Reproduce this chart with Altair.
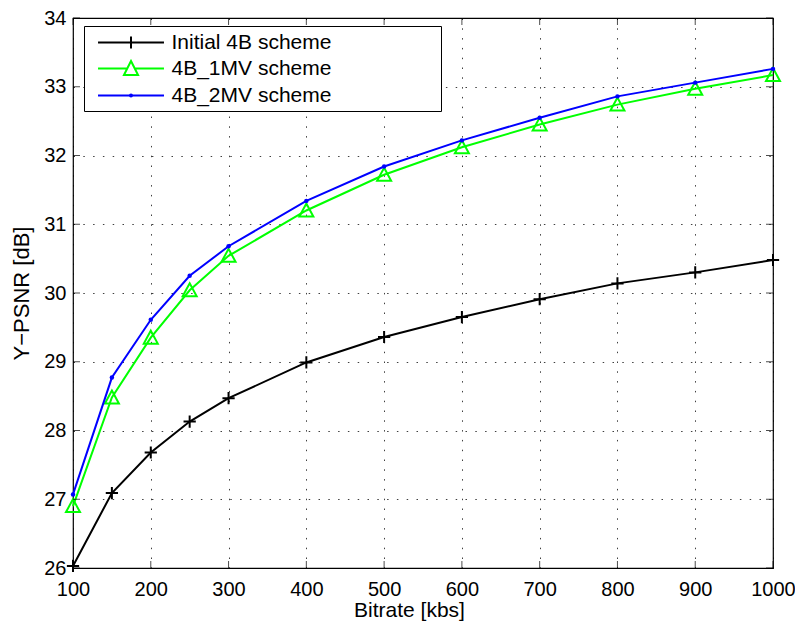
import altair as alt
import pandas as pd

# ---------------- data ----------------
bitrate = [100, 150, 200, 250, 300, 400, 500, 600, 700, 800, 900, 1000]
initial_4b = [26.03, 27.09, 27.68, 28.13, 28.47, 28.99, 29.36, 29.65, 29.91, 30.14, 30.30, 30.48]
mv1_4b = [26.90, 28.48, 29.35, 30.04, 30.54, 31.20, 31.72, 32.12, 32.45, 32.74, 32.97, 33.17]
mv2_4b = [27.07, 28.77, 29.61, 30.25, 30.68, 31.34, 31.84, 32.22, 32.55, 32.86, 33.06, 33.26]

series_names = ["Initial 4B scheme", "4B_1MV scheme", "4B_2MV scheme"]
series_colors = ["#000000", "#00ff00", "#0000ff"]

x_ticks = [100, 200, 300, 400, 500, 600, 700, 800, 900, 1000]
y_ticks = [26, 27, 28, 29, 30, 31, 32, 33, 34]

rows = []
for name, vals in zip(series_names, [initial_4b, mv1_4b, mv2_4b]):
    for b, v in zip(bitrate, vals):
        rows.append({"bitrate": b, "psnr": v, "series": name})
df = pd.DataFrame(rows)
xt = pd.DataFrame({"bitrate": x_ticks})
yt = pd.DataFrame({"psnr": y_ticks})

# ---------------- style ----------------
FONT = "Liberation Sans"
W, H = 700, 550

xscale = alt.Scale(domain=[100, 1000], nice=False, zero=False)
yscale = alt.Scale(domain=[26, 34], nice=False, zero=False)
color_scale = alt.Scale(domain=series_names, range=series_colors)

# legend symbols: line segment + marker (unit = 10.5 px)
legend_paths = [
    "M-3.14,0H3.14M0,-0.58V0.58",
    "M-3.14,0H-0.36M0.36,0H3.14M0,-0.71L0.67,0.62L-0.67,0.62Z",
    "M-3.14,0H3.14M-0.1,0A0.1,0.1 0 1,0 0.1,0A0.1,0.1 0 1,0 -0.1,0",
]
shape_scale = alt.Scale(domain=series_names, range=legend_paths)

marker_shapes = ["M-1,0H1M0,-1V1", "M0,-1L1,0.85L-1,0.85Z", "circle"]
marker_sizes = [150, 196, 20]
marker_filled = [False, False, True]

x_axis = alt.Axis(values=x_ticks, grid=True, ticks=False, domain=False, format="d",
                  labelPadding=11, labelFontSize=20, labelFlush=False, labelOverlap=False,
                  title="Bitrate [kbs]", titleFontSize=21, titleFontWeight="normal",
                  titlePadding=0, titleX=336)
y_axis = alt.Axis(values=y_ticks, grid=True, ticks=False, domain=False, format="d",
                  labelPadding=7, labelFontSize=20, labelFlush=False, labelOverlap=False,
                  title="Y\u2212PSNR [dB]", titleFontSize=22, titleFontWeight="normal",
                  titlePadding=10)

X = lambda: alt.X("bitrate:Q", scale=xscale, axis=x_axis)
Y = lambda: alt.Y("psnr:Q", scale=yscale, axis=y_axis)

base = alt.Chart(df)
layers = []
for i, name in enumerate(series_names):
    sub = base.transform_filter(alt.datum.series == name)
    layers.append(sub.mark_line(color=series_colors[i], strokeWidth=2, clip=False)
                  .encode(x=X(), y=Y()))
    layers.append(sub.mark_point(shape=marker_shapes[i], size=marker_sizes[i],
                                 filled=marker_filled[i], color=series_colors[i],
                                 strokeWidth=2, opacity=1, clip=False)
                  .encode(x=X(), y=Y()))

leg = alt.Legend(title=".", orient="none", legendX=11, legendY=8, direction="vertical",
                 titleOrient="right", titleColor="white", titleFontSize=6, titlePadding=103,
                 labelFont=FONT, labelFontSize=21, labelColor="black", labelOffset=29,
                 labelLimit=500, symbolOffset=30.5, symbolSize=441, symbolStrokeWidth=2,
                 symbolOpacity=1, padding=5, rowPadding=4, strokeColor="black",
                 fillColor="white")

legend_layer = base.mark_point(opacity=0, size=441, filled=False, strokeWidth=2).encode(
    x=X(), y=Y(),
    color=alt.Color("series:N", scale=color_scale, legend=leg, sort=series_names),
    shape=alt.Shape("series:N", scale=shape_scale, legend=leg, sort=series_names),
)

# inward tick marks on all four sides
tick_style = dict(size=7, thickness=1, color="black")
bottom_ticks = alt.Chart(xt).mark_tick(orient="vertical", yOffset=-3.5, **tick_style).encode(
    x=X(), y=alt.value(H))
top_ticks = alt.Chart(xt).mark_tick(orient="vertical", yOffset=3.5, **tick_style).encode(
    x=X(), y=alt.value(0))
left_ticks = alt.Chart(yt).mark_tick(orient="horizontal", xOffset=3.5, **tick_style).encode(
    y=Y(), x=alt.value(0))
right_ticks = alt.Chart(yt).mark_tick(orient="horizontal", xOffset=-3.5, **tick_style).encode(
    y=Y(), x=alt.value(W))

chart = alt.layer(*layers, bottom_ticks, top_ticks, left_ticks, right_ticks, legend_layer).properties(
    width=W, height=H,
    autosize=alt.AutoSizeParams(type="none"),
    padding={"left": 65, "top": 10, "right": 22, "bottom": 54},
).configure(font=FONT).configure_view(
    stroke="black", strokeWidth=1.2
).configure_axis(
    gridColor="#000000", gridOpacity=0.75, gridDash=[1.5, 8.3], gridWidth=1,
    labelColor="black", titleColor="black", labelFont=FONT, titleFont=FONT,
)

chart.save("out.html", embed_options={"renderer": "svg", "actions": False})
